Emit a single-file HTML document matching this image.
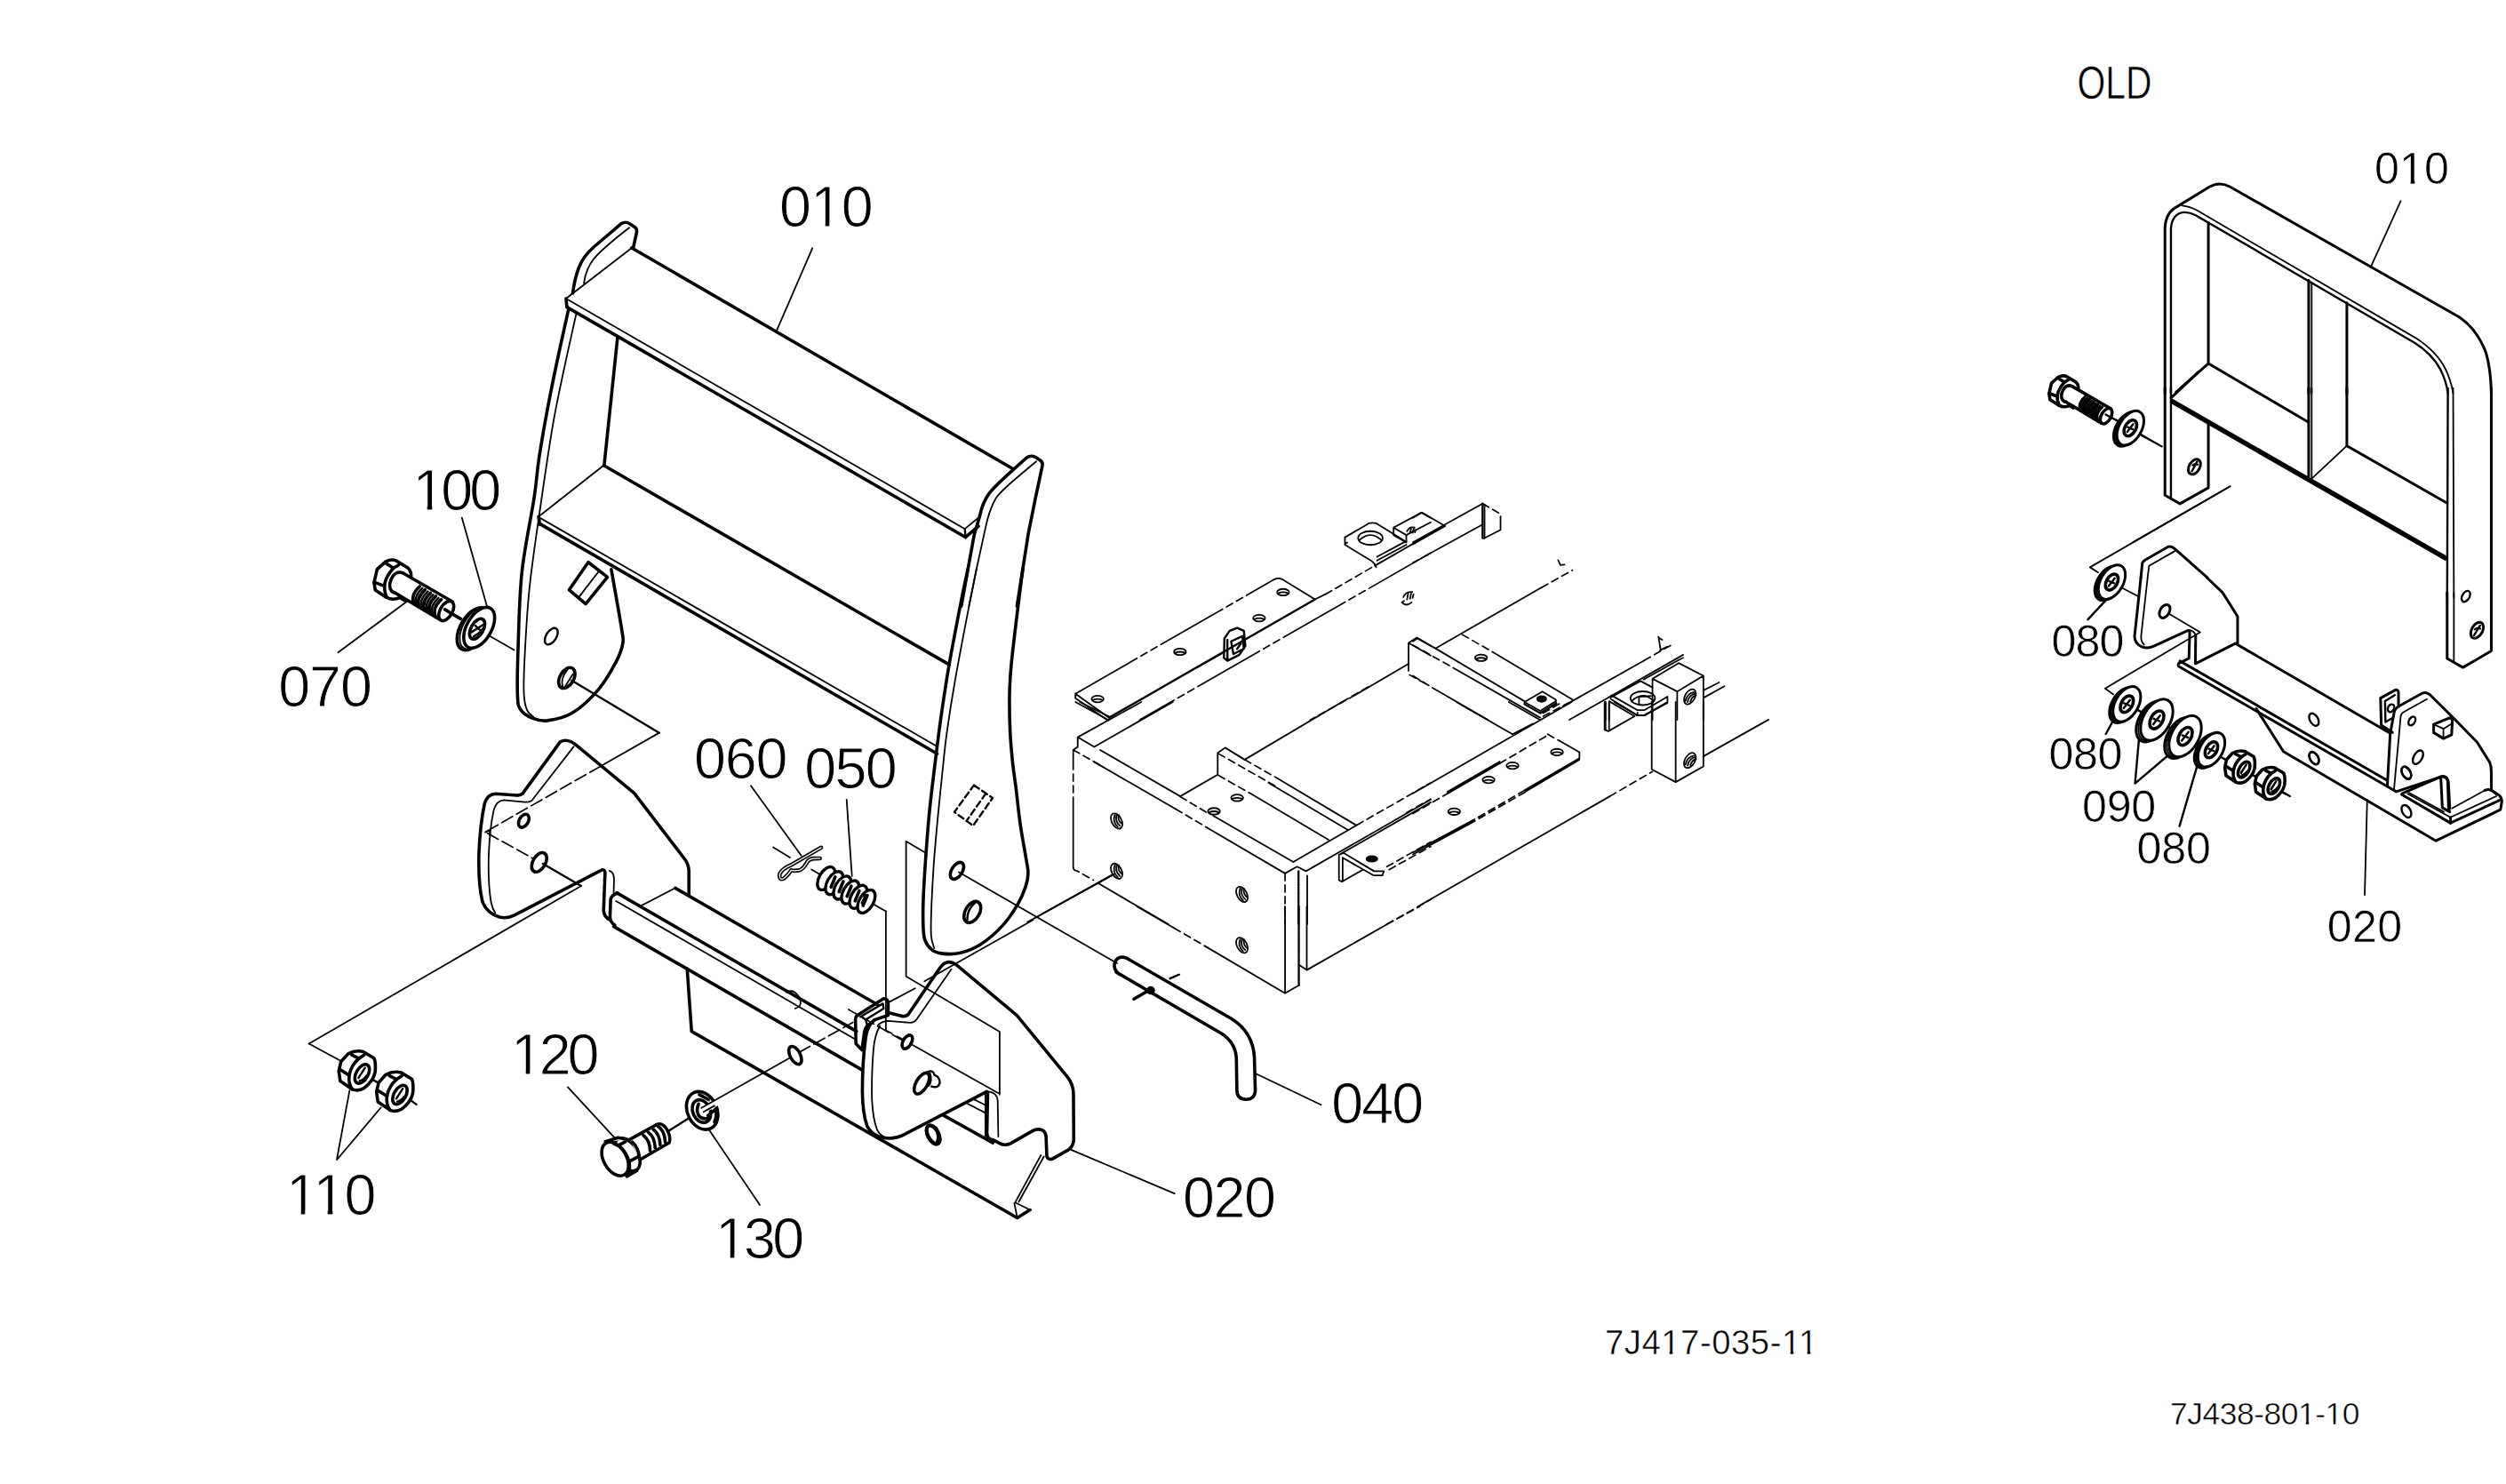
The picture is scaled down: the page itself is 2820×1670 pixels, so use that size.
<!DOCTYPE html>
<html><head><meta charset="utf-8"><title>Parts diagram</title>
<style>
html,body{margin:0;padding:0;background:#fff;}
svg{display:block;}
svg *{vector-effect:non-scaling-stroke;}
.g{fill:none;stroke:#000;stroke-linecap:round;stroke-linejoin:round;stroke-width:3.6;}
.n{stroke-width:1.8;}
.m{stroke-width:2.4;}
.k{stroke-width:3.6;}
.ko{stroke-width:3.0;}
.d{stroke-width:1.7;stroke-dasharray:14 5;}
.dd{stroke-width:1.7;stroke-dasharray:22 5 5 5;}
.ph{stroke-width:1.7;stroke-dasharray:80 5 8 5 8 5;}
.ds{stroke-width:1.7;stroke-dasharray:8 5;}
.w{fill:#fff;}
.b{fill:#000;}
text{font-family:"Liberation Sans",sans-serif;fill:#000;stroke:#fff;vector-effect:none;}
.t1{font-size:61px;stroke-width:1.6px;}
.t2{font-size:50px;stroke-width:1.3px;}
.t3{font-size:34px;stroke-width:0.9px;}
</style></head><body>
<svg width="2820" height="1670" viewBox="0 0 2820 1670">
<rect x="0" y="0" width="2820" height="1670" fill="#fff" stroke="none"/>
<g id="labels">
<text x="877.0" y="254.8" font-size="64.6" stroke-width="0.9" textLength="105.8" lengthAdjust="spacing">010</text>
<text x="464.5" y="574.3" font-size="64.6" stroke-width="0.9" textLength="99.6" lengthAdjust="spacing">100</text>
<text x="313.2" y="794.9" font-size="64.6" stroke-width="0.9" textLength="105.7" lengthAdjust="spacing">070</text>
<text x="780.9" y="876.2" font-size="64.6" stroke-width="0.9" textLength="105.5" lengthAdjust="spacing">060</text>
<text x="905.3" y="886.6" font-size="64.6" stroke-width="0.9" textLength="104.5" lengthAdjust="spacing">050</text>
<text x="322.1" y="1366.6" font-size="64.6" stroke-width="0.9" textLength="101.4" lengthAdjust="spacing">110</text>
<text x="574.9" y="1209.0" font-size="64.6" stroke-width="0.9" textLength="99.5" lengthAdjust="spacing">120</text>
<text x="805.0" y="1416.2" font-size="64.6" stroke-width="0.9" textLength="100.1" lengthAdjust="spacing">130</text>
<text x="1331.0" y="1370.0" font-size="64.6" stroke-width="0.9" textLength="104.9" lengthAdjust="spacing">020</text>
<text x="1498.3" y="1263.7" font-size="64.6" stroke-width="0.9" textLength="104.0" lengthAdjust="spacing">040</text>
<text x="2337.5" y="111.4" font-size="52.2" stroke-width="0.6" textLength="84.0" lengthAdjust="spacingAndGlyphs">OLD</text>
<text x="2672.0" y="207.0" font-size="50.2" stroke-width="0.6" textLength="83.8" lengthAdjust="spacing">010</text>
<text x="2308.4" y="739.3" font-size="50.2" stroke-width="0.6" textLength="81.9" lengthAdjust="spacing">080</text>
<text x="2305.4" y="865.8" font-size="50.2" stroke-width="0.6" textLength="83.1" lengthAdjust="spacing">080</text>
<text x="2343.1" y="924.5" font-size="50.2" stroke-width="0.6" textLength="83.1" lengthAdjust="spacing">090</text>
<text x="2404.5" y="971.7" font-size="50.2" stroke-width="0.6" textLength="83.4" lengthAdjust="spacing">080</text>
<text x="2618.7" y="1060.0" font-size="50.2" stroke-width="0.6" textLength="84.5" lengthAdjust="spacing">020</text>
<text x="1806.0" y="1523.7" font-size="38.3" stroke-width="0.5" textLength="239.2" lengthAdjust="spacing">7J417-035-11</text>
<text x="2442.0" y="1603.0" font-size="35.4" stroke-width="0.5" textLength="213.4" lengthAdjust="spacing">7J438-801-10</text>
</g>
<g fill="#fff" stroke="none">
<rect x="916.0" y="250.0" width="12.7" height="5.0"/>
<rect x="933.3" y="250.0" width="11.7" height="5.0"/>
<rect x="469.0" y="569.0" width="11.7" height="5.0"/>
<rect x="486.3" y="569.0" width="11.7" height="5.0"/>
<rect x="326.0" y="1362.0" width="12.7" height="5.0"/>
<rect x="343.3" y="1362.0" width="11.7" height="5.0"/>
<rect x="357.0" y="1362.0" width="11.7" height="5.0"/>
<rect x="374.3" y="1362.0" width="11.7" height="5.0"/>
<rect x="579.0" y="1204.0" width="12.7" height="5.0"/>
<rect x="596.3" y="1204.0" width="11.7" height="5.0"/>
<rect x="809.0" y="1411.0" width="12.7" height="5.0"/>
<rect x="826.3" y="1411.0" width="11.7" height="5.0"/>
<rect x="2703.0" y="203.0" width="9.7" height="5.0"/>
<rect x="2717.3" y="203.0" width="8.7" height="5.0"/>
<rect x="1871.0" y="1520.0" width="7.7" height="5.0"/>
<rect x="1882.3" y="1520.0" width="7.7" height="5.0"/>
<rect x="2007.0" y="1520.0" width="7.7" height="5.0"/>
<rect x="2018.3" y="1520.0" width="7.7" height="5.0"/>
<rect x="2026.0" y="1520.0" width="7.7" height="5.0"/>
<rect x="2037.3" y="1520.0" width="7.7" height="5.0"/>
<rect x="2588.0" y="1600.0" width="6.7" height="4.0"/>
<rect x="2598.3" y="1600.0" width="6.7" height="4.0"/>
<rect x="2618.0" y="1600.0" width="7.7" height="4.0"/>
<rect x="2628.3" y="1600.0" width="7.7" height="4.0"/>
</g>
<g class="g" transform="translate(480,200) scale(0.333200)"><path class="n" d="M1303 238 L1183 515"/>
<path class="k" d="M693 237 L1980 983"/>
<path class="n" d="M471 408 L693 237"/>
<path class="n" d="M471 408 L1818 1186"/>
<path class="k" d="M474 437 L1820 1214"/>
<path class="k" d="M471 408 L474 437"/>
<path class="m" d="M1818 1186 L1820 1214"/>
<path class="n" d="M1818 1186 L1868 1145"/>
<path class="k" d="M1820 1214 L1864 1177"/>
<!-- left plate outer edge below shelf -->
<!-- inner vertical between shelves -->
<path class="k" d="M645 540 L600 970"/>
<!-- shelf 2 -->
<path class="n" d="M600 970 L378 1145"/>
<path class="k" d="M378 1145 L383 1172"/></g>
<g class="g" transform="translate(600,230) scale(0.101061)"><path class="k" d="M440 990 C455 880 475 790 510 700 C540 620 600 540 680 470 L980 215 Q1030 185 1075 215 L1140 260 Q1162 285 1148 330 L1115 480"/>
<path class="n" d="M565 880 C575 790 600 700 680 600 C760 510 900 390 1070 260"/></g>
<g class="g" transform="translate(1060,490) scale(0.101082)"><path class="k" d="M215 1900 L290 1484 L360 1100 L420 900 C440 800 470 720 530 640 C570 590 640 520 790 385 L940 250 Q990 215 1040 240 L1100 282 Q1128 305 1115 350 L1040 700 L960 1100 L900 1484 L835 1900"/>
<path class="n" d="M300 1900 L385 1484 L480 1050 C510 900 540 800 600 700 C640 640 700 580 1050 290"/></g>
<g class="g" transform="translate(300,500) scale(0.287307)"><!-- left plate lower part -->
<!-- holes -->
<ellipse class="m" cx="1115" cy="752" rx="20" ry="36" transform="rotate(32 1115 752)"/>
<ellipse class="k" cx="1176" cy="915" rx="27" ry="44" transform="rotate(30 1176 915)"/>
<path class="n" d="M1160 950 Q1150 915 1180 880 M1168 950 L1200 900"/>
<!-- small block -->
<path class="k" d="M1260 462 L1335 520 L1250 625 L1185 570 Z"/>
<path class="n" d="M1303 495 L1222 600"/>
<!-- shelf 2 left -->
<!-- axis line from hole -->
<path class="m" d="M1195 925 L1538 1130"/></g>
<g class="g">
<path class="k" d="M639.8 347.8 C637.6 357.8 630.7 388.5 626.7 407.5 C622.7 426.5 619.2 443.7 615.8 461.8 C612.4 479.9 609.0 499.6 606.5 516.0 C604.0 532.4 604.3 538.7 601.1 560.0 C597.9 581.3 590.3 615.4 587.3 643.7 C584.3 672.0 583.8 706.6 583.0 729.8 C582.2 753.0 581.9 771.5 582.4 783.0 C582.9 794.5 583.2 794.6 585.9 798.8 C588.6 803.0 593.8 806.0 598.8 808.0 C603.8 810.0 608.3 811.9 616.0 810.9 C623.7 809.9 635.2 807.6 644.8 801.7 C654.4 795.9 665.4 785.4 673.5 775.8 C681.6 766.2 689.1 752.8 693.6 744.2 C698.1 735.6 699.8 730.3 700.8 724.1 C701.8 717.9 701.5 720.8 699.4 706.9 C697.2 693.0 689.8 651.8 687.9 640.8"/>
<path class="n" d="M648.4 353.3 C646.1 363.9 638.8 395.9 634.4 416.8 C630.0 437.7 626.1 454.9 622.0 478.8 C617.9 502.7 614.0 529.6 609.6 560.0 C605.2 590.4 599.1 630.2 595.9 660.9 C592.7 691.6 591.2 724.1 590.2 744.2 C589.2 764.3 589.1 772.5 589.6 781.6 C590.1 790.7 591.2 794.6 593.0 798.8 C594.8 803.0 599.0 805.5 600.2 806.8"/>
</g>
<g class="g">
<!-- shelf 2 long edges -->
<path class="k" d="M679.4 523.8 L1068.1 747.9"/>
<path class="n" d="M606 581.9 L1054.1 839.7"/>
<path class="k" d="M606.8 589.1 L1054.6 848.2"/>
<!-- right plate -->
<path class="k" d="M1089.3 640.0 C1087.9 646.8 1084.3 662.5 1080.8 680.5 C1077.3 698.5 1071.8 726.8 1068.1 747.9 C1064.4 769.0 1061.6 788.2 1058.9 806.9 C1056.2 825.6 1054.2 842.7 1052.1 860.0 C1050.0 877.3 1047.9 893.6 1046.2 910.5 C1044.5 927.4 1043.2 944.2 1042.0 961.1 C1040.8 978.0 1039.5 997.6 1039.0 1011.6 C1038.5 1025.6 1038.6 1037.4 1039.0 1045.3 C1039.4 1053.2 1039.6 1054.9 1041.2 1058.8 C1042.8 1062.7 1045.5 1066.5 1048.7 1068.9 C1051.9 1071.3 1055.2 1072.5 1060.5 1073.1 C1065.8 1073.7 1073.5 1074.1 1080.8 1072.3 C1088.1 1070.5 1096.4 1067.3 1104.3 1062.2 C1112.2 1057.1 1121.2 1049.2 1127.9 1041.9 C1134.7 1034.6 1140.5 1025.7 1144.8 1018.4 C1149.1 1011.1 1152.0 1004.0 1154.0 998.1 C1156.0 992.2 1156.8 988.0 1156.9 983.0 C1157.1 978.0 1156.4 977.1 1154.9 967.8 C1153.4 958.5 1150.1 941.1 1148.1 927.4 C1146.1 913.6 1144.5 896.5 1143.1 885.3 C1141.7 874.1 1140.8 870.3 1139.7 860.0 C1138.6 849.7 1137.3 836.8 1136.7 823.7 C1136.1 810.6 1135.8 794.2 1136.0 781.6 C1136.2 769.0 1136.5 763.3 1138.0 747.9 C1139.5 732.5 1142.6 707.0 1144.8 689.0 C1147.0 671.0 1150.0 648.2 1151.0 640.0"/>
<path class="n" d="M1098.9 640.0 C1097.0 649.6 1091.5 676.6 1087.5 697.4 C1083.5 718.2 1078.6 743.8 1074.9 764.8 C1071.2 785.8 1067.8 807.8 1065.6 823.7 C1063.3 839.6 1063.2 842.7 1061.4 860.0 C1059.6 877.3 1056.4 907.8 1054.6 927.4 C1052.8 947.0 1051.5 961.0 1050.4 977.9 C1049.3 994.8 1048.3 1015.9 1047.9 1028.5 C1047.5 1041.1 1047.3 1047.2 1047.9 1053.7 C1048.5 1060.2 1050.7 1065.0 1051.3 1067.2"/>
<!-- dashed box on right plate -->
<path class="m" stroke-dasharray="7 4" d="M1095.9 883.6 L1117 897.9 L1095.1 929.1 L1074 913.9 Z M1109.4 892.9 L1087.5 924"/>
<!-- holes right plate -->
<ellipse class="k" cx="1076.9" cy="979.9" rx="6" ry="10.5" transform="rotate(32 1076.9 979.9)"/>
<ellipse class="k" cx="1094.2" cy="1026.4" rx="8" ry="13" transform="rotate(30 1094.2 1026.4)"/>
<path class="m" d="M1088.5 1035 Q1088 1024 1097 1016"/>
<!-- axis line from hole to pin 040 -->
<path class="n" d="M1079 981.5 L1257 1084"/>
<!-- line from chassis hole -->
<path class="n" d="M1252.6 983.8 L1172.6 1028.5 M1162.5 1035.2 L1040.3 1104.3"/>
</g>
<g class="g" transform="translate(410,620) scale(0.080860)"><g id="bolt">
<path class="k" d="M135 440 L178 255 L295 150 Q380 105 445 138 L605 235 Q662 290 650 360"/>
<path class="k" d="M135 440 L152 545 L305 645 Q400 695 495 648 L560 690"/>
<path class="k" d="M305 175 L405 238 L475 198"/>
<path class="k" d="M405 238 Q305 350 285 450 Q268 545 310 645"/>
<path class="k" d="M155 440 L280 490"/>
<path class="k" d="M545 312 Q465 270 400 345 Q335 440 360 525 Q385 580 430 585"/>
<path class="k" d="M545 312 L1225 705"/>
<path class="k" d="M430 585 L1050 955"/>
<path class="k" d="M770 495 Q640 610 690 735"/>
<path class="k" d="M845 540 Q715 655 765 780"/>
<path class="k" d="M920 585 Q790 700 840 825"/>
<path class="k" d="M995 630 Q865 745 915 870"/>
<path class="k" d="M1070 675 Q940 790 990 915"/>
<path class="m" d="M808 518 Q678 633 728 758"/>
<path class="m" d="M883 563 Q753 678 803 803"/>
<path class="m" d="M958 608 Q828 723 878 848"/>
<path class="m" d="M1033 653 Q903 768 953 893"/>
<ellipse class="k" cx="1140" cy="835" rx="85" ry="150" transform="rotate(30 1140 835)"/>
</g>
<path class="k" d="M1120 815 L1340 945"/>
<!-- washer 100 -->
<ellipse class="k w" cx="1515" cy="1085" rx="180" ry="325" transform="rotate(30 1515 1085)"/>
<ellipse class="n w" cx="1550" cy="1078" rx="178" ry="320" transform="rotate(30 1550 1078)"/>
<ellipse class="k w" cx="1598" cy="1068" rx="172" ry="312" transform="rotate(30 1598 1068)"/>
<ellipse class="k" cx="1570" cy="1085" rx="85" ry="155" transform="rotate(30 1570 1085)"/>
<path class="m" d="M1490 1130 L1650 1030 M1545 1040 L1620 1110 M1520 1190 Q1600 1150 1640 1090"/>
<path class="n" d="M1358 -461 L1712 790"/>
<path class="n" d="M1745 1185 L2085 1378"/>
<path class="n" d="M-366 1412 L590 705"/></g>
<g class="g" transform="translate(520,810) scale(0.168464)"><path class="k" d="M1515 1165 L1515 1010 Q1512 960 1485 928 L1150 490 L765 172 Q705 120 655 148 L405 492 Q390 506 365 505 L225 494 Q170 495 150 560 Q120 700 112 900 Q108 1100 135 1210 Q160 1290 250 1318 Q300 1330 350 1305 L920 1010 Q950 990 955 1020 L945 1275 Q950 1320 985 1335"/>
<path class="n" d="M745 180 L465 540 Q445 552 420 550 L280 536 Q230 540 212 600 Q185 720 178 900 Q172 1080 192 1210 Q200 1260 222 1290"/>
<path class="n" d="M985 1008 Q1015 1020 1015 1065 L1012 1175"/>
<ellipse class="k" cx="412" cy="675" rx="30" ry="48" transform="rotate(30 412 675)"/>
<ellipse class="k" cx="515" cy="952" rx="42" ry="70" transform="rotate(30 515 952)"/>
<path class="m" d="M540 962 L795 1110"/>
<path class="n" d="M795 1110 L-1023 2164"/>
<path class="n" d="M1317 87 L925 310"/>
<path class="d" d="M925 310 L155 750 L480 930"/>
<path class="n" d="M155 750 L185 738 L185 772"/>
<!-- bar rounded end -->
<path class="k" d="M1040 1160 Q1000 1165 992 1200 L988 1320 Q992 1355 1020 1372"/>
<path class="n" d="M1430 1120 L1200 1240"/></g>
<g class="g" transform="translate(480,1000) scale(0.333200)"><!-- back top edge -->
<path class="k" d="M840 -2 L1525 393"/>
<!-- front top edge -->
<path class="k" d="M642 14 L1452 482"/>
<path class="n" d="M640 42 L1445 507"/>
<!-- lower edge of bar front -->
<path class="k" d="M632 128 L1470 612"/>
<!-- skirt -->
<path class="k" d="M880 270 L895 482 L1995 1112 L2038 1085"/>
<path class="n" d="M2075 900 L1988 1060 L2038 1085 M2085 905 L2000 1058"/>
<path class="n" d="M1995 1112 L1985 1062"/>
<!-- hole on bar -->
<ellipse class="k" cx="1245" cy="563" rx="17" ry="33" transform="rotate(-28 1245 563)"/>
<!-- hole on skirt -->
<ellipse class="k" cx="1712" cy="830" rx="18" ry="34" transform="rotate(-28 1712 830)"/>
<!-- axis bolt 120 -->
<path class="d" d="M1258 553 L1440 452"/>
<path class="d" d="M1425 408 L1620 520"/>
<!-- small detail on bar top -->
<path class="n" d="M1215 350 Q1245 335 1262 375 Q1268 400 1245 405"/></g>
<g class="g" transform="translate(900,1060) scale(0.168464)"><!-- outer outline -->
<path class="k" d="M590 472 L690 497 Q715 497 728 480 L940 168 Q985 110 1045 152 L1450 490 L1790 905 Q1825 950 1828 1010 L1830 1320 Q1828 1365 1795 1388 L1690 1448 Q1655 1460 1650 1430 L1645 1300 Q1640 1255 1600 1252 Q1575 1250 1555 1262 L1410 1345 Q1370 1365 1335 1345 L1290 1322"/>
<!-- thin inner edge of top -->
<path class="n" d="M520 560 Q545 530 590 528 L740 540 Q765 538 780 518 L1012 182"/>
<!-- front face D shape -->
<path class="k" d="M500 520 Q450 560 440 640 Q418 800 418 1000 Q420 1150 450 1230 Q490 1310 600 1312 Q650 1310 690 1290 L1250 1000"/>
<path class="n" d="M535 562 Q500 620 492 720 Q478 900 482 1050 Q488 1180 515 1250 Q530 1285 560 1300"/>
<!-- inner vertical at opening -->
<path class="k" d="M1255 1005 L1250 1280 Q1255 1320 1290 1322"/>
<path class="n" d="M1262 1000 Q1320 1010 1322 1060 L1326 1300"/>
<path class="n" d="M1240 1020 L1240 1300"/>
<!-- opening interior -->
<path class="k" d="M960 1158 L1290 1342"/>
<path class="n" d="M1120 1080 L1240 1142 M1160 1050 L1250 1095"/>
<!-- thin ghost rectangle -->
<path class="n" d="M575 -204 L575 590 M838 -597 L710 -672 L710 230 L1335 600 L1335 1020"/>
<path class="d" d="M575 590 L615 612"/>
<!-- holes -->
<ellipse class="k" cx="718" cy="668" rx="28" ry="50" transform="rotate(30 718 668)"/>
<path class="n" d="M738 680 L1330 1012"/>
<path class="d" d="M650 630 L690 652"/>
<ellipse class="k" cx="815" cy="945" rx="38" ry="78" transform="rotate(30 815 945)"/>
<path class="m" d="M850 870 Q890 850 900 890 Q935 900 935 940 Q930 980 880 965 M870 880 Q885 930 860 960"/>
<ellipse class="k" cx="890" cy="1290" rx="36" ry="68" transform="rotate(-28 890 1290)"/>
<path class="k" d="M905 1240 Q940 1290 915 1345"/>
<!-- clip -->
<path class="k" d="M385 490 L560 378 Q590 380 590 410 L590 472 M385 490 Q370 500 372 530 L375 680 L415 722 L432 600 Q440 560 470 545 L500 520 L590 490"/>
<path class="m" d="M405 500 L555 412 L560 445 L440 520 L420 505 M440 520 L450 555"/>
<!-- leader 020 -->
<path class="n" d="M1812 1388 L2503 1681"/>
<!-- line from lower left connecting -->
<path class="n" d="M600 400 L770 310"/></g>
<g class="g" transform="translate(860,940) scale(0.067385)"><path class="n" d="M-223 -827 L620 340"/>
<path class="n" d="M150 200 L430 370"/>
<path class="n" d="M1376 -594 L1465 680"/>
<path class="n" d="M790 570 L1010 700"/>
<path class="n" d="M1700 1080 L2030 1270"/>
<ellipse class="w" stroke-width="3.4" cx="1035" cy="720" rx="118" ry="212" transform="rotate(30 1035 720)"/>
<ellipse class="w" stroke-width="3.4" cx="1169" cy="797" rx="118" ry="212" transform="rotate(30 1169 797)"/>
<ellipse class="w" stroke-width="3.4" cx="1303" cy="874" rx="118" ry="212" transform="rotate(30 1303 874)"/>
<ellipse class="w" stroke-width="3.4" cx="1437" cy="951" rx="118" ry="212" transform="rotate(30 1437 951)"/>
<ellipse class="w" stroke-width="3.4" cx="1571" cy="1028" rx="118" ry="212" transform="rotate(30 1571 1028)"/>
<ellipse class="w" stroke-width="3.4" cx="1705" cy="1105" rx="118" ry="212" transform="rotate(30 1705 1105)"/>
<path stroke-width="3.6" d="M1185 695 l-70 170"/>
<path stroke-width="3.6" d="M1319 772 l-70 170"/>
<path stroke-width="3.6" d="M1453 849 l-70 170"/>
<path stroke-width="3.6" d="M1587 926 l-70 170"/>
<path stroke-width="3.6" d="M1721 1003 l-70 170"/>
<path class="k" d="M1640 1130 L1700 1010 L1640 1000"/>
<path d="M950 205 L440 500 Q300 560 255 650 Q250 760 330 720 Q400 660 450 585 Q520 600 600 580 Q680 530 720 440 Q760 390 830 388 L930 385" stroke-width="4.6" />
<path d="M950 205 L440 500 Q300 560 255 650 Q250 760 330 720 Q400 660 450 585 Q520 600 600 580 Q680 530 720 440 Q760 390 830 388 L930 385" stroke="#fff" stroke-width="1.3" /></g>
<g class="g" transform="translate(340,1160) scale(0.080860)"><path class="n" d="M95 180 L540 420"/>
<path class="n" d="M660 830 L482 1796 L1095 1070"/>
<path class="m" d="M985 680 L1060 725 M1500 960 L1590 1025"/>
<g id="nut">
<path class="k w" d="M510 560 L540 430 L640 320 Q740 265 850 290 L1000 380 Q1030 440 1015 580 Q990 700 860 800 Q780 845 700 815 L530 700 Z"/>
<path class="k" d="M790 385 Q680 480 655 620 Q640 740 700 815"/>
<path class="k" d="M690 335 L790 385 L862 338"/>
<path class="k" d="M535 545 L655 620"/>
<ellipse class="k" cx="835" cy="600" rx="82" ry="145" transform="rotate(30 835 600)"/>
<path class="m" d="M785 655 L875 515 M800 695 Q860 680 895 625"/>
</g>
<use href="#nut" x="525" y="290"/></g>
<g class="g" transform="translate(660,1210) scale(0.080860)"><path class="n" d="M-260 165 L390 870"/>
<!-- bolt 120 -->
<ellipse class="k w" cx="565" cy="1105" rx="150" ry="250" transform="rotate(-30 565 1105)"/>
<path class="k w" d="M262 925 L440 868 L590 900 M560 1408 L700 1330"/>
<ellipse class="k w" cx="398" cy="1165" rx="158" ry="255" transform="rotate(-30 398 1165)"/>
<path class="k" d="M385 955 L440 978 L545 922"/>
<path class="k" d="M480 1005 Q560 1090 592 1200 Q610 1290 585 1390"/>
<path class="k" d="M592 1200 L740 1125"/>
<path class="k w" d="M600 895 L985 682 Q1060 660 1115 750 Q1180 860 1150 940 L745 1175"/>
<path class="k" d="M640 930 Q720 1010 735 1130"/>
<path class="k" d="M790 835 Q880 900 885 1050"/>
<path class="k" d="M860 795 Q950 860 955 1010"/>
<path class="k" d="M930 755 Q1020 820 1025 970"/>
<path class="k" d="M1000 715 Q1090 780 1095 930"/>
<path class="m" d="M1150 770 L1420 600"/>
<!-- lock washer 130 -->
<ellipse class="k w" cx="1610" cy="492" rx="205" ry="275" transform="rotate(-25 1610 492)"/>
<ellipse class="k" cx="1600" cy="500" rx="120" ry="165" transform="rotate(-25 1600 500)"/>
<path class="k" d="M1560 400 Q1520 480 1560 560 Q1610 620 1680 600"/>
<path stroke="#fff" stroke-width="7" stroke-linecap="butt" d="M1640 480 L1900 330"/>
<path class="k" d="M1570 270 L1700 340 M1690 560 L1800 470 Q1820 560 1780 650"/>
<path class="n" d="M1600 455 L2850 -253 M1630 510 L1780 425"/>
<path class="n" d="M1700 750 L2412 1806"/></g>
<g class="g" transform="translate(1180,880) scale(0.333200)"><path class="k" d="M240 650 Q218 635 223 612 Q232 585 262 594 L618 800 Q690 845 695 930 L698 1045 Q695 1072 667 1072 Q638 1072 636 1045 L634 930 Q630 880 585 850 L228 642"/>
<path class="k" d="M288 733 L345 700"/>
<circle class="b" cx="345" cy="704" r="9"/>
<path class="n" d="M410 665 L440 650"/>
<path class="n" d="M700 985 L920 1090"/></g>
<g class="g" transform="translate(1190,560) scale(0.168464)"><g class="n">
<path d="M120 1310 L345 1470 M120 1310 L120 1340 L330 1484"/>
<path class="m" d="M345 1470 L1720 680"/>
<path d="M1450 545 Q1475 535 1500 545 L1720 680 L1790 645"/>
<path class="ph" d="M120 1310 L1450 545"/>
<path class="ds" d="M1790 645 L2110 460"/>
<path d="M2120 455 L2493 240"/>
<path class="ph" d="M2493 370 L550 1484"/>
<!-- holes -->
<defs><g id="fh"><ellipse cx="0" cy="0" rx="40" ry="22"/><path d="M-34 8 Q0 -8 34 8" /></g></defs>
</g>
<g class="n">
<use href="#fh" x="268" y="1345"/><use href="#fh" x="818" y="1030"/><use href="#fh" x="1347" y="805"/><use href="#fh" x="1507" y="632"/>
<!-- nut clip -->
<path class="m" d="M1115 940 L1150 890 L1200 870 L1245 890 L1255 990 L1215 1050 L1135 1090 L1112 1070 Z M1160 960 L1235 925 L1245 1010 L1175 1045 Z M1135 950 L1135 1085"/>
<path class="m" d="M1200 1010 L1225 975"/>
<path d="M1100 1040 L930 1135"/>
<!-- tab with hole top right -->
<path d="M1920 265 L2080 172 Q2105 165 2130 172 L2320 290 M1920 265 L1920 315 L2100 425 Q2125 445 2128 465 M1925 305 L1935 300 M2135 395 L2330 290 M2135 420 L2330 315"/>
<ellipse cx="2090" cy="270" rx="82" ry="46"/>
<path d="M2015 285 Q2090 215 2165 285"/>
<!-- small block -->
<path d="M2245 200 L2430 100 L2493 135 M2245 200 L2245 250 L2330 300 M2245 200 L2330 250 L2493 165 M2330 250 L2330 300"/>
<path d="M2335 225 Q2350 190 2385 200 M2355 235 L2362 205 M2372 235 L2380 205 M2388 232 L2392 215"/>
<path d="M2310 665 Q2325 625 2370 630 M2335 680 L2342 640 M2355 675 L2362 640 M2372 670 L2378 645 M2300 700 Q2330 730 2365 700 M2300 700 L2315 690"/>
<!-- inner cross member top right -->
<path d="M2345 970 L2400 935 L2493 990 M2345 970 L2493 1055 M2345 970 L2345 1110"/>
<path class="ds" d="M2345 1110 L2345 1180 L2480 1255"/>
<path d="M2345 1110 L1990 1318"/>
<path class="ds" d="M1990 1318 L1690 1484"/>
</g></g>
<g class="g" transform="translate(1190,790) scale(0.168464)"><g class="n">
<path d="M135 235 L135 300 L105 320 M135 235 L560 0 M135 235 L245 300 L770 0"/>
<path d="M120 0 L340 120 M150 0 L350 100"/>
<path d="M285 320 L820 630 L1070 485 L1070 340 L1120 305 L1250 385 L1900 0"/>
<path class="ds" d="M1900 0 L2100 -115"/>
<path class="ds" d="M1075 345 L1470 570 M1250 385 L1470 510 M1075 490 L1290 612 M820 632 L1000 740"/>
<path d="M245 400 L790 715 M1000 840 L1520 1145"/>
<path class="ds" d="M790 715 L1000 840"/>
<path d="M1040 760 L1575 1068 M1290 612 L1810 920 M1410 540 L1940 855 M1470 510 L1990 820"/>
<path d="M1575 1068 L2000 822"/>
<path class="ds" d="M2000 822 L2493 540"/>
<path d="M1520 1145 L1600 1100 L1660 1130 L2493 652 M1900 1010 L2493 670"/>
<path class="ds" d="M2330 740 L2493 648 M2200 1100 L2493 935 M2215 1120 L2493 965 M2200 1484 L2493 1320"/>
<path class="ds" d="M1520 1145 L1520 1484"/>
<path class="m" stroke-dasharray="1.5 1" d="M1610 1130 L1610 1484"/>
<path d="M1668 1160 L1668 1484"/>
<path class="ph" d="M105 1110 L105 320"/>
<path class="ds" d="M105 320 L285 422 M105 1110 Q110 1125 130 1128 L240 1190"/>
<path d="M-200 1470 L380 1150"/>
<path d="M270 1210 L740 1484"/>
<!-- holes -->
<defs><g id="sh"><ellipse cx="0" cy="0" rx="33" ry="55" transform="rotate(-28)"/><path d="M-12 -40 Q-30 5 8 40 M2 -45 Q-15 0 22 32 M14 -40 Q5 -10 30 15"/></g></defs>
</g>
<g class="n">
<use href="#sh" x="395" y="795"/><use href="#sh" x="395" y="1130"/><use href="#sh" x="1232" y="1285"/>
<use href="#fh" x="1200" y="640"/><use href="#fh" x="1045" y="730"/>
<!-- angle bracket right -->
<path d="M1880 1020 L1880 1190 L1900 1200 L2040 1120 M1880 1020 L1910 1008 L2115 1130 L2180 1130 M1905 1040 L1905 1195 M1905 1040 L2110 1158 L2170 1158 L2180 1130"/>
<ellipse class="b" cx="2100" cy="1048" rx="36" ry="18"/>
</g></g>
<g class="g" transform="translate(1590,560) scale(0.168464)"><g class="n">
<path class="m" stroke-dasharray="1.5 1" d="M465 40 L465 270"/>
<path d="M478 45 L478 272"/>
<path class="ds" d="M465 40 L585 110"/>
<path d="M585 125 L585 215 L475 272"/>
<path d="M0 298 L465 40 M60 100 L215 190 M0 135 L60 100 M215 190 L0 312"/>
<path d="M100 380 L465 180"/>
<path class="ds" d="M100 380 L0 435"/>
<path d="M155 1005 L860 600"/>
<path class="ds" d="M860 600 L1065 485"/>
<path d="M970 418 L985 450 L1012 448"/>
<path d="M0 960 L30 940 L155 1010 L745 1360"/>
<path class="ds" d="M330 915 L530 1030 M0 985 L310 1160 M0 1190 L130 1270"/>
<path d="M530 1030 L1068 1350 M310 1160 L850 1470 M130 1270 L500 1484"/>
<use href="#fh" x="455" y="1070"/>
<!-- small plate -->
<path d="M745 1365 L865 1295 L955 1350 L955 1375 L850 1440 L745 1380 Z M745 1365 L850 1425 L955 1360"/>
<ellipse class="b" cx="860" cy="1345" rx="22" ry="14"/>
<ellipse cx="860" cy="1345" rx="30" ry="19"/>
<path class="ds" d="M870 1440 L1000 1365"/>
<!-- right rail long lines -->
<path d="M1000 1395 L1545 1088"/>
<path class="ds" d="M1545 1088 L1725 985"/>
<path d="M1640 930 L1655 1020 M1640 935 L1665 950 M1650 1020 L1700 995"/>
<path d="M1045 1484 L1805 1050"/>
<path d="M1540 1215 L1775 1085 L1805 1070"/>
<!-- post -->
<path d="M1600 1210 L1775 1105 L1940 1190 L1765 1295 Z M1600 1210 L1600 1484 M1765 1295 L1765 1484 M1940 1190 L1940 1484"/>
<use href="#sh" x="1850" y="1330" transform="rotate(58 1850 1330)"/>
<!-- tab with hole -->
<path d="M1320 1335 L1520 1225 L1600 1268 M1700 1330 L1700 1365 L1545 1455 L1500 1455 L1320 1345 M1700 1330 L1545 1420 L1500 1420 L1325 1320"/>
<ellipse cx="1535" cy="1340" rx="82" ry="46"/>
<path d="M1460 1360 Q1535 1285 1610 1360 M1510 1330 L1510 1380 M1510 1330 L1590 1325"/>
<path d="M1945 1285 L2045 1235 M1945 1335 L2080 1260"/>
<path class="m" stroke-dasharray="1.5 1" d="M1285 1370 L1285 1484"/>
<path d="M1310 1360 L1310 1484 M1310 1360 L1480 1460"/>
</g></g>
<g class="g" transform="translate(1590,790) scale(0.168464)"><g class="n">
<path d="M290 0 L665 215 L800 145 M640 0 L850 120 M745 15 L850 75 L960 10"/>
<path class="ds" d="M870 95 L1050 0"/>
<path d="M0 610 L1060 0"/>
<!-- strip 2 -->
<path class="ds" d="M0 745 L230 612"/>
<path d="M230 612 L580 410 M230 600 L580 398"/>
<path class="ds" d="M580 410 L900 222 M900 215 L980 260"/>
<path d="M980 260 L1112 335 L1112 375 L745 590 M1112 385 L750 600"/>
<path class="ds" d="M745 590 L400 790 M750 602 L400 802"/>
<path d="M400 790 L0 1005 M400 802 L0 1018"/>
<use href="#fh" x="962" y="335"/><use href="#fh" x="665" y="425"/><use href="#fh" x="505" y="520"/><use href="#fh" x="275" y="732"/>
<!-- long line bottom -->
<path d="M35 1365 L1315 630"/>
<path class="ds" d="M1315 630 L1600 465"/>
<!-- post -->
<path d="M1595 0 L1595 450 L1755 535 L1940 430 L1940 0 M1755 0 L1755 535"/>
<use href="#sh" x="1850" y="390" transform="rotate(58 1850 390)"/>
<!-- tab -->
<path d="M1280 0 L1280 185 L1305 195 L1480 95 M1310 10 L1310 180 M1345 0 L1500 90 L1545 90 L1700 5 M1500 90 L1500 70"/>
<path class="m" stroke-dasharray="1.5 1" d="M1285 0 L1285 185"/>
<path d="M1945 360 L2375 118"/>
</g></g>
<g class="g" transform="translate(1190,1020) scale(0.168464)"><g class="n">
<path d="M530 0 L780 145 M985 265 L1520 580 L1615 525 M1520 0 L1520 580"/>
<path class="ds" d="M780 145 L985 265"/>
<path class="m" stroke-dasharray="1.5 1" d="M1612 0 L1612 525"/>
<path d="M1665 0 L1665 425 L1615 392 M1665 425 L2200 120"/>
<path class="ds" d="M2200 120 L2420 0"/>
<use href="#sh" x="1232" y="260"/>
<path d="M750 480 L815 455"/>
</g></g>
<g class="g" transform="translate(2400,190) scale(0.168464)"><path class="ko" d="M215 1500 L215 400 Q218 290 300 250 L510 122 Q580 80 650 120 L2180 990 Q2300 1070 2360 1230 Q2392 1340 2395 1500"/>
<path class="n" d="M330 245 Q380 250 430 278 L1890 1130 Q2030 1220 2090 1340 Q2125 1410 2140 1500"/>
<path class="m" d="M255 1500 L255 400 Q262 300 340 290 Q380 288 420 310 L1880 1160 Q2000 1235 2055 1340 Q2095 1420 2105 1500"/>
<path class="ko" d="M505 360 L505 1300 L290 1490 M505 1300 L1170 1690"/>
<path class="ko" d="M1175 745 L1175 1500 M1430 895 L1430 1500"/>
<path class="n" d="M1195 760 L1195 1500"/>
<path class="n" d="M1790 215 L1590 655"/></g>
<g class="g" transform="translate(2400,420) scale(0.168464)"><path class="ko" d="M215 100 L215 815 L315 872 L505 765 L505 340"/>
<path class="m" d="M255 100 L255 835"/>
<path class="ko" d="M255 165 L440 -10"/>
<path stroke-width="5.5" stroke-linecap="butt" d="M255 183 L2098 1240"/>
<path class="ko" d="M1175 100 L1175 690 M1430 100 L1430 485 L2095 865"/>
<path class="n" d="M1195 100 L1195 700 M1430 485 L1200 700"/>
<path class="m" d="M2105 100 L2100 1500"/><path class="ko" d="M2395 100 L2395 1500"/>
<path class="n" d="M2140 100 L2145 1500"/>
<ellipse class="ko" cx="412" cy="625" rx="35" ry="55" transform="rotate(30 412 625)"/>
<path class="m" d="M395 655 L430 590 M400 615 Q420 600 432 610"/>
<path class="n" d="M40 400 L195 490 M650 755 L0 1130"/></g>
<g class="g" transform="translate(2400,650) scale(0.168464)"><path class="ko" d="M2100 100 L2100 540 L2205 600 L2395 490 L2395 100"/>
<path class="n" d="M2145 100 L2145 562"/>
<ellipse class="m" cx="2225" cy="125" rx="24" ry="40" transform="rotate(30 2225 125)"/>
<ellipse class="ko" cx="2300" cy="352" rx="36" ry="58" transform="rotate(30 2300 352)"/>
<path class="m" d="M2280 385 L2320 320 M2285 345 Q2305 330 2320 340"/>
<!-- right plate -->
<path class="ko" d="M1720 1040 L1745 905 Q1750 875 1780 858 L1935 772 Q1960 762 1985 782 L2150 945 L2300 1100 L2385 1235 Q2395 1260 2395 1300 L2395 1420"/>
<path class="ko" d="M1720 1040 L1700 1395 L1760 1430 L2060 1330 Q2100 1320 2108 1360 L2118 1545"/>
<path class="n" d="M1790 925 Q1795 905 1815 895 L1965 812 M1790 925 L1745 1415"/>
<ellipse class="m" cx="1865" cy="958" rx="20" ry="32" transform="rotate(30 1865 958)"/>
<ellipse class="m" cx="1905" cy="1200" rx="28" ry="50" transform="rotate(30 1905 1200)"/>
<ellipse class="m" cx="1827" cy="1305" rx="27" ry="45" transform="rotate(-30 1827 1305)"/>
<path class="ko" d="M2010 980 L2120 935 L2135 950 L2130 1050 L2075 1075 L2010 1035 Z"/>
<path class="n" d="M2010 980 L2075 1010 L2132 975 M2075 1010 L2075 1075"/>
<!-- small tab -->
<path class="ko" d="M1655 805 L1755 750 Q1775 748 1775 770 L1775 860 M1655 805 L1660 985 L1735 1035"/>
<path class="m" d="M1685 825 L1750 785 M1685 825 L1688 965 L1740 935"/>
<ellipse class="m" cx="1725" cy="872" rx="20" ry="27" transform="rotate(30 1725 872)"/>
<!-- bottom -->
<path class="n" d="M1000 1435 L1025 1448"/></g>
<g class="g" transform="translate(2240,650) scale(0.168464)"><path class="ko" d="M1004 0 L962 390 Q960 440 1010 462 Q1050 478 1090 458 L1310 357 Q1332 345 1330 370 L1325 540 L1258 572 Q1250 580 1255 592 L2650 1395"/>
<path class="n" d="M1049 0 L1005 395 Q1005 430 1025 448"/>
<path class="ko" d="M1370 385 L1368 575 L1635 440 L2670 1040 M1265 557 L2650 1355 M1650 440 L1650 260 L1550 100 L1445 0"/>
<path class="n" d="M1322 350 Q1360 355 1370 385"/>
<ellipse class="ko" cx="1163" cy="225" rx="31" ry="48" transform="rotate(30 1163 225)"/>
<path class="n" d="M1190 240 L1400 365 L765 740 L820 780"/>
<ellipse class="m" cx="2160" cy="948" rx="27" ry="45" transform="rotate(-30 2160 948)"/>
<ellipse class="m" cx="2160" cy="1205" rx="27" ry="45" transform="rotate(-30 2160 1205)"/>
<path class="m" d="M940 860 L2000 1460"/>
<path class="m" d="M650 280 L790 130 M830 935 L770 1045 M995 1035 L965 1375 L1195 1180 M1385 1240 L1262 1660"/>
<path class="n" d="M880 70 L985 125"/>
<ellipse class="ko w" cx="786" cy="38" rx="75" ry="125" transform="rotate(30 786 38)"/>
<ellipse class="n w" cx="798" cy="34" rx="75" ry="125" transform="rotate(30 798 34)"/>
<ellipse class="ko w" cx="810" cy="30" rx="75" ry="125" transform="rotate(30 810 30)"/>
<ellipse stroke-width="3.6" cx="810" cy="30" rx="36" ry="58" transform="rotate(30 810 30)"/>
<path class="m" d="M789 56 l40 -52 M792 24 l34 14"/>
<ellipse class="ko w" cx="886" cy="853" rx="77" ry="128" transform="rotate(30 886 853)"/>
<ellipse class="n w" cx="898" cy="849" rx="77" ry="128" transform="rotate(30 898 849)"/>
<ellipse class="ko w" cx="910" cy="845" rx="77" ry="128" transform="rotate(30 910 845)"/>
<ellipse stroke-width="3.6" cx="910" cy="845" rx="37" ry="60" transform="rotate(30 910 845)"/>
<path class="m" d="M889 872 l42 -54 M892 839 l36 15"/>
<ellipse class="ko w" cx="1080" cy="960" rx="90" ry="150" transform="rotate(30 1080 960)"/>
<ellipse class="n w" cx="1095" cy="955" rx="90" ry="150" transform="rotate(30 1095 955)"/>
<ellipse class="ko w" cx="1110" cy="950" rx="90" ry="150" transform="rotate(30 1110 950)"/>
<ellipse stroke-width="3.6" cx="1110" cy="950" rx="40" ry="65" transform="rotate(30 1110 950)"/>
<path class="m" d="M1087 979 l45 -58 M1090 943 l39 16"/>
<ellipse class="ko w" cx="1270" cy="1070" rx="90" ry="150" transform="rotate(30 1270 1070)"/>
<ellipse class="n w" cx="1285" cy="1065" rx="90" ry="150" transform="rotate(30 1285 1065)"/>
<ellipse class="ko w" cx="1300" cy="1060" rx="90" ry="150" transform="rotate(30 1300 1060)"/>
<ellipse stroke-width="3.6" cx="1300" cy="1060" rx="40" ry="65" transform="rotate(30 1300 1060)"/>
<path class="m" d="M1277 1089 l45 -58 M1280 1053 l39 16"/>
<ellipse class="ko w" cx="1451" cy="1158" rx="75" ry="125" transform="rotate(30 1451 1158)"/>
<ellipse class="n w" cx="1463" cy="1154" rx="75" ry="125" transform="rotate(30 1463 1154)"/>
<ellipse class="ko w" cx="1475" cy="1150" rx="75" ry="125" transform="rotate(30 1475 1150)"/>
<ellipse stroke-width="3.6" cx="1475" cy="1150" rx="36" ry="58" transform="rotate(30 1475 1150)"/>
<path class="m" d="M1454 1176 l40 -52 M1457 1144 l34 14"/></g>
<g class="g" transform="translate(2260,400) scale(0.168464)"><path class="m" d="M650 395 L735 440"/>
<path class="n" d="M890 535 L1025 608"/>
<ellipse class="ko w" cx="793" cy="492" rx="75" ry="125" transform="rotate(30 793 492)"/>
<ellipse class="n w" cx="804" cy="488" rx="75" ry="125" transform="rotate(30 804 488)"/>
<ellipse class="ko w" cx="815" cy="485" rx="75" ry="125" transform="rotate(30 815 485)"/>
<ellipse stroke-width="3.6" cx="815" cy="485" rx="36" ry="58" transform="rotate(30 815 485)"/>
<path class="m" d="M794 511 l40 -52 M797 479 l34 14"/>
<path class="n" d="M1480 875 L545 1415 L600 1450"/>
<path class="ko" d="M885 1484 L895 1385 Q900 1375 915 1365 L1060 1282 Q1085 1268 1110 1290 L1330 1484"/>
<path class="n" d="M930 1484 L940 1405 L1115 1305"/></g>
<g class="g">
<use href="#bolt" transform="translate(2297.2,414.9) scale(0.06388)"/>
<use href="#nut" transform="translate(2469.8,826.3) scale(0.0663)"/>
<use href="#nut" transform="translate(2503.5,844.8) scale(0.0663)"/>
<path class="n" d="M2663.8 900 L2661 1007"/>
</g>
<g class="g" transform="translate(2480,820) scale(0.135685)"><path class="ko" d="M435 -165 L660 190 L1925 930 L2460 672 L2472 600 Q2470 560 2430 540 L2385 512"/>
<path class="ko" d="M1640 545 L2045 782 L2460 590 M2045 735 L2045 785"/>
<path class="n" d="M1690 540 L2045 735 L2425 560 M2330 512 L2060 660"/>
<path class="ko" d="M2330 512 Q2370 495 2400 520 L2430 545"/>
<path class="ko" d="M1650 535 L1960 400 Q2000 385 2022 430 L2030 670"/>
<path class="ko" d="M1965 400 L1978 655 L2040 690"/>
<path class="n" d="M1700 530 L1990 690"/>
<ellipse class="m" cx="915" cy="245" rx="34" ry="56" transform="rotate(-30 915 245)"/>
<ellipse class="m" cx="1680" cy="365" rx="34" ry="56" transform="rotate(-30 1680 365)"/>
<ellipse class="m" cx="1680" cy="685" rx="34" ry="56" transform="rotate(-30 1680 685)"/>
<path class="n" d="M640 520 L685 545"/></g>
</svg></body></html>
